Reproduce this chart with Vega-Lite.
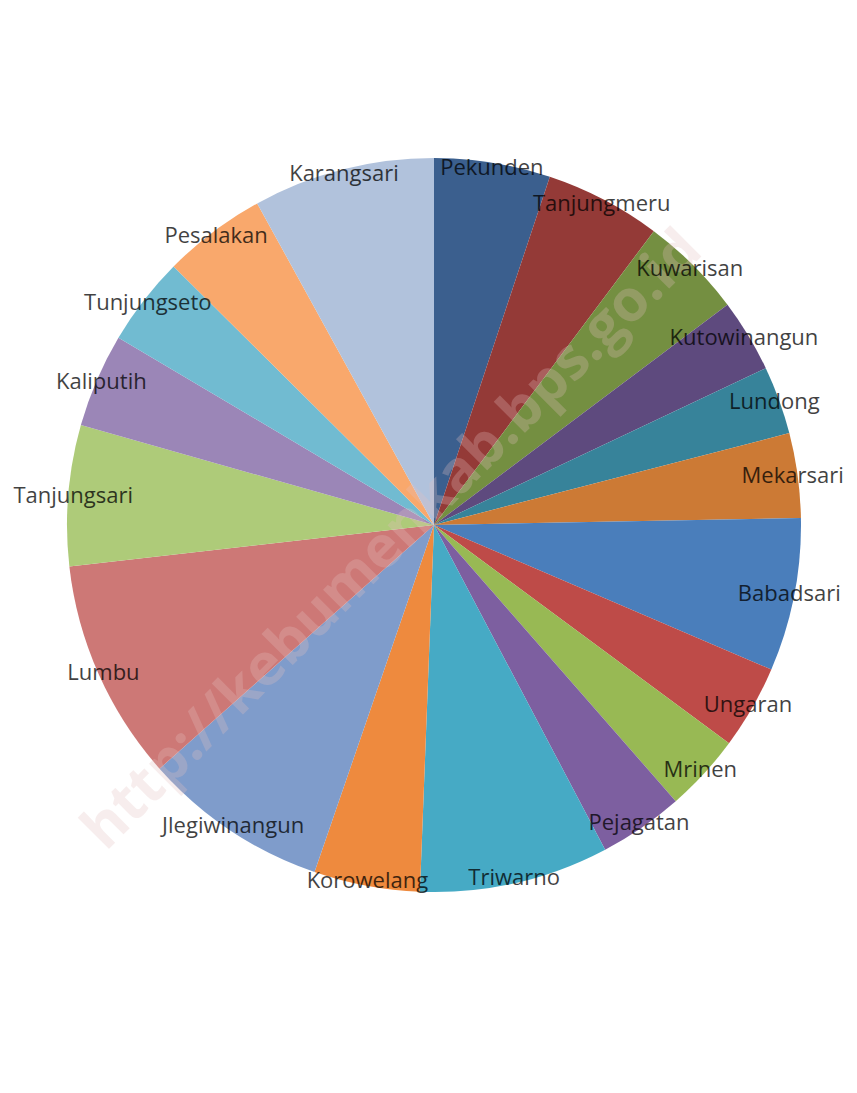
{
  "$schema": "https://vega.github.io/schema/vega-lite/v6.json",
  "width": 846,
  "height": 1050,
  "autosize": "none",
  "padding": {"left": 11, "top": 0, "right": 0, "bottom": 43},
  "background": "white",
  "config": {"view": {"stroke": null}},
  "layer": [
    {
      "data": {"name": "pie"},
      "mark": {"type": "arc", "outerRadius": 367, "stroke": null},
      "encoding": {
        "theta": {"field": "value", "type": "quantitative", "stack": true},
        "order": {"field": "no", "type": "quantitative"},
        "color": {
          "field": "desa",
          "type": "nominal",
          "legend": null,
          "scale": {
            "domain": ["Pekunden","Tanjungmeru","Kuwarisan","Kutowinangun","Lundong","Mekarsari","Babadsari","Ungaran","Mrinen","Pejagatan","Triwarno","Korowelang","Jlegiwinangun","Lumbu","Tanjungsari","Kaliputih","Tunjungseto","Pesalakan","Karangsari"],
            "range": ["#3B5F8E","#943A37","#748F41","#5E4A7E","#37839A","#CC7A35","#4A7EBB","#BE4B48","#98B954","#7D5FA0","#46AAC5","#EE8A3E","#7F9CCB","#CD7876","#AECB79","#9B86B7","#71BBD1","#F9A86C","#B1C2DC"]
          }
        }
      }
    },
    {
      "data": {"values": [{"wm": "http://kebumenkab.bps.go.id"}]},
      "mark": {"type": "text", "angle": -45, "font": "Open Sans", "fontWeight": "bold", "fontSize": 58, "fill": "#e4c0c0", "opacity": 0.28, "align": "center", "baseline": "middle", "dx": -40, "dy": -18},
      "encoding": {"text": {"field": "wm", "type": "nominal"}}
    },
    {
      "data": {"name": "pie"},
      "mark": {"type": "text", "radius": 362, "font": "Open Sans", "fontSize": 22, "fill": "#000000", "opacity": 0.74, "align": "center", "baseline": "middle"},
      "encoding": {
        "theta": {"field": "value", "type": "quantitative", "stack": true},
        "order": {"field": "no", "type": "quantitative"},
        "text": {"field": "desa", "type": "nominal"}
      }
    }
  ],
  "datasets": {
    "pie": [
      {"no": 1, "desa": "Pekunden", "value": 18.4},
      {"no": 2, "desa": "Tanjungmeru", "value": 18.4},
      {"no": 3, "desa": "Kuwarisan", "value": 16.3},
      {"no": 4, "desa": "Kutowinangun", "value": 11.6},
      {"no": 5, "desa": "Lundong", "value": 10.8},
      {"no": 6, "desa": "Mekarsari", "value": 13.4},
      {"no": 7, "desa": "Babadsari", "value": 24.3},
      {"no": 8, "desa": "Ungaran", "value": 13.3},
      {"no": 9, "desa": "Mrinen", "value": 12.3},
      {"no": 10, "desa": "Pejagatan", "value": 13.4},
      {"no": 11, "desa": "Triwarno", "value": 30.0},
      {"no": 12, "desa": "Korowelang", "value": 16.8},
      {"no": 13, "desa": "Jlegiwinangun", "value": 29.4},
      {"no": 14, "desa": "Lumbu", "value": 35.1},
      {"no": 15, "desa": "Tanjungsari", "value": 22.3},
      {"no": 16, "desa": "Kaliputih", "value": 14.9},
      {"no": 17, "desa": "Tunjungseto", "value": 14.1},
      {"no": 18, "desa": "Pesalakan", "value": 16.4},
      {"no": 19, "desa": "Karangsari", "value": 28.8}
    ]
  }
}
